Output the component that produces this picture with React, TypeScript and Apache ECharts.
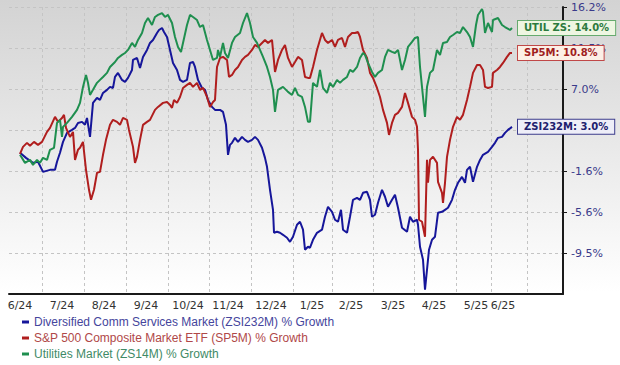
import React, { useEffect, useRef } from 'react';
import * as echarts from 'echarts';

// ---- axis ticks / labels ----
const xTickDays = [16.4, 37.6, 58.5, 79.4, 100, 120.9, 141.9, 161.7, 181.9, 202.7, 223.5, 240.9, 258.9];
const xLabelDays = [5.5, 26.5, 47.5, 68.5, 89.5, 109.5, 131, 151.5, 171, 192, 212.5, 233.5, 247];
const xLabels = ['6/24', '7/24', '8/24', '9/24', '10/24', '11/24', '12/24', '1/25', '2/25', '3/25', '4/25', '5/25', '6/25'];
const yTickValues = [-9.48, -5.2, -0.92, 3.36, 7.64, 11.92, 16.2];
const yLabelValues = [-9.48, -5.2, -0.92, 7.64, 11.92, 16.2];
const yLabels = ['-9.5%', '-5.6%', '-1.6%', '7.0%', '11.5%', '16.2%'];

// ---- series ----
const seriesNames = [
  'Diversified Comm Services Market (ZSI232M) % Growth',
  'S&P 500 Composite Market ETF (SP5M) % Growth',
  'Utilities Market (ZS14M) % Growth',
];
const endTags = ['ZSI232M: 3.0%', 'SP5M: 10.8%', 'UTIL ZS: 14.0%'];

const blueDays = [5.5, 8.5, 12, 14.5, 17, 20.5, 23, 24, 25.5, 27, 29, 31.5, 33, 34.5, 36.5, 38, 39, 40.5, 42, 44, 45.5, 47, 49, 50.5, 52, 53, 54.5, 56.5, 58, 59.5, 61.5, 62, 64, 65.5, 67, 69, 70.5, 72, 74, 75, 76.5, 77.5, 79, 80.5, 82, 84, 85.5, 87, 89, 90.5, 92, 93, 94.5, 96.5, 98, 99.5, 101.5, 103, 105.5, 107, 108.5, 109.5, 110.5, 111.5, 113, 114.5, 116.5, 118, 119.5, 121.5, 123, 124.5, 126.5, 128, 129, 130.5, 132, 132.5, 134, 135.5, 137, 139, 140.5, 142, 144, 145.5, 147, 148, 149.5, 150.5, 152, 154, 156.5, 158, 159.5, 161.5, 163, 164.5, 166, 167, 169, 170.5, 172, 174, 175.5, 177, 179, 180.5, 181.5, 183, 184.5, 186.5, 188, 189.5, 191.5, 193, 194.5, 196.5, 199, 200.5, 202, 204, 204.5, 205.5, 207, 208, 209, 210, 211.5, 213, 214.5, 216.5, 218, 219.5, 221.5, 223, 224.5, 226.5, 228, 229, 230.5, 232, 234, 235.5, 237, 239.5, 241.5, 243, 244.5, 246.5, 248, 249.5, 251.5];
const blueValues = [0.98, 0.45, -0.07, 0.04, -1.01, -0.8, -0.8, 0.04, 0.98, 2.12, 3.06, 3.37, 3.58, 4.1, 4.21, 3.9, 4.62, 2.64, 6.19, 6.71, 6.5, 7.23, 7.55, 7.86, 7.75, 8.9, 9.32, 8.59, 8.38, 8.8, 9.63, 10.67, 10.88, 9.84, 10.99, 11.72, 12.45, 12.76, 13.49, 13.8, 14.01, 13.59, 13.07, 11.72, 10.36, 9.63, 8.59, 8.38, 8.59, 10.36, 10.46, 9.94, 8.59, 7.75, 7.55, 6.5, 5.77, 5.46, 5.46, 5.25, 3.9, 0.77, 1.81, 2.02, 2.54, 2.12, 2.64, 2.33, 2.12, 2.33, 2.64, 2.33, 1.5, 0.45, -0.48, -2.88, -4.97, -7.37, -7.26, -7.37, -7.58, -7.89, -8.31, -7.78, -6.53, -6.22, -7.05, -9.14, -8.83, -8.93, -8.1, -7.37, -7.05, -5.7, -4.66, -5.18, -6.01, -6.22, -4.97, -7.05, -7.37, -5.7, -3.93, -3.72, -3.93, -3.2, -3.09, -3.93, -5.7, -5.49, -4.24, -2.88, -3.61, -4.66, -3.93, -3.4, -4.76, -6.85, -7.26, -5.7, -6.22, -6.01, -6.53, -8.83, -10.18, -13.31, -11.23, -9.14, -8.1, -7.78, -5.28, -5.18, -4.97, -4.76, -3.93, -2.88, -2.15, -1.53, -2.15, -0.8, -0.48, -2.05, -0.48, 0.24, 0.77, 1.08, 1.6, 2.02, 2.54, 2.64, 3.06, 3.37, 3.69];

const redDays = [5.5, 7, 9, 10.5, 12.5, 14.5, 16.5, 19, 20.5, 23, 24.5, 26.5, 27.5, 28.5, 30.5, 32, 33, 34.5, 35.5, 37, 38.5, 40, 41, 42.5, 44, 45.5, 47, 48.5, 50.5, 52, 54, 55.5, 57, 59, 60, 62, 63, 64, 65.5, 67, 69, 70.5, 73, 74.5, 77, 79, 80.5, 81.5, 82.5, 84, 85.5, 87, 89, 90.5, 92, 94, 95.5, 97, 99, 100.5, 102, 103, 104, 105.5, 107, 109, 110, 111.5, 113, 114.5, 116.5, 118, 119.5, 121.5, 123, 124.5, 126.5, 128, 129.5, 131.5, 133, 134.5, 136.5, 138, 139.5, 141.5, 143, 144.5, 146.5, 148, 149.5, 150.5, 152, 154, 156.5, 158, 159.5, 161.5, 163, 164.5, 166.5, 168, 169.5, 171.5, 173, 174.5, 175.5, 177, 179, 180.5, 182, 184, 185.5, 187, 189, 190, 191.5, 193, 194.5, 196.5, 198, 199.5, 201.5, 203, 204, 204.5, 205, 206.5, 208, 209, 209.5, 210.5, 212, 214, 214.5, 216.5, 217, 218, 219, 220.5, 222, 224, 225.5, 227, 229, 230.5, 232, 234, 235.5, 237, 238, 239.5, 241.5, 242, 244, 245.5, 247, 249, 250.5, 251.5];
const redValues = [0.87, 1.6, 2.02, 1.71, 2.12, 1.81, 2.12, 3.16, 3.58, 4.73, 4.21, 4.62, 4.94, 3.58, 2.64, 3.16, 0.24, 1.29, 1.5, 2.12, -0.8, -2.88, -3.93, -2.88, -1.11, -1.01, 0.77, 2.33, 3.9, 4.42, 4.21, 3.9, 4.62, 4.42, 3.37, 1.6, -0.07, 0.56, 2.33, 3.9, 4.21, 4.42, 5.46, 5.77, 6.19, 6.29, 5.98, 5.67, 6.5, 6.19, 6.81, 7.75, 8.07, 8.28, 7.86, 8.28, 7.55, 7.75, 6.81, 5.77, 6.29, 6.5, 9.94, 10.88, 10.99, 10.67, 8.9, 9.11, 9.63, 9.94, 10.67, 10.99, 11.2, 11.72, 12.24, 12.03, 12.45, 12.76, 12.45, 12.76, 9.42, 10.67, 11.72, 12.24, 10.88, 9.94, 10.46, 10.99, 10.67, 8.9, 8.8, 8.8, 9.94, 11.72, 13.49, 12.76, 12.45, 12.76, 12.03, 12.76, 12.97, 12.03, 13.07, 13.49, 13.49, 13.59, 13.07, 11.72, 10.88, 9.32, 8.8, 7.75, 6.81, 5.46, 4.1, 2.85, 4.1, 4.94, 5.15, 5.77, 7.23, 6.19, 4.73, 4.42, 3.69, 1.29, -6.01, -6.22, -7.78, 0.24, -2.15, 0.24, 0.56, -0.07, -2.05, -3.2, -4.24, -2.15, 0.56, 2.33, 3.69, 4.73, 4.42, 4.94, 6.5, 7.86, 9.32, 10.15, 10.15, 9.63, 7.86, 7.75, 7.86, 9.32, 9.63, 9.94, 10.36, 10.99, 11.4, 11.4];

const greenDays = [5.5, 8, 10.5, 12, 14, 15.5, 17, 19, 20.5, 22.5, 24, 25.5, 26.5, 27, 29, 31.5, 34, 35.5, 37, 38.5, 39.5, 40.5, 42, 44, 45.5, 47, 49, 50.5, 53, 54.5, 56.5, 58, 59.5, 61.5, 63, 64.5, 66.5, 68, 69.5, 71.5, 73, 74.5, 76.5, 78, 79.5, 81.5, 83, 84.5, 86, 87, 89, 90.5, 92, 94, 95.5, 97, 99, 100.5, 102, 104, 104.5, 105.5, 107, 108, 109.5, 111.5, 113, 115.5, 117, 119, 120.5, 122, 124, 125.5, 127, 129, 130.5, 132, 133, 134.5, 137, 139.5, 141.5, 143, 144.5, 146.5, 148, 149.5, 150.5, 152, 154, 155.5, 157, 159, 160.5, 162, 164, 165.5, 167, 169, 170.5, 172, 174, 175.5, 177, 178, 179.5, 181.5, 183, 184.5, 186.5, 188, 189.5, 191.5, 193, 194.5, 196.5, 198, 199.5, 201.5, 203, 204.5, 205.5, 207, 208, 209, 210.5, 212, 214, 215.5, 217, 219, 220.5, 222, 224, 225.5, 227, 229, 230.5, 232, 233.5, 234.5, 236.5, 237, 238, 239.5, 241.5, 242, 244.5, 246.5, 248, 250.5, 251.5];
const greenValues = [0.77, -0.07, 0.24, -0.28, 0.24, -0.07, 0.45, 0.24, 1.29, 1.5, 4.1, 4.42, 2.64, 3.69, 4.1, 4.73, 5.46, 6.19, 7.86, 9.11, 8.28, 7.02, 7.55, 8.28, 8.59, 8.9, 9.32, 9.94, 10.46, 10.88, 11.2, 11.4, 11.72, 12.45, 12.03, 12.76, 13.49, 14.53, 15.05, 14.32, 15.16, 15.37, 15.57, 15.16, 15.37, 14.53, 13.07, 12.03, 11.51, 12.45, 14.32, 15.37, 15.16, 14.84, 14.11, 14.32, 12.76, 11.72, 10.67, 10.88, 11.72, 10.99, 12.45, 11.4, 10.88, 12.45, 13.07, 13.49, 14.53, 15.57, 14.53, 13.07, 12.45, 11.72, 10.99, 9.94, 8.9, 7.55, 5.25, 7.55, 7.86, 7.34, 7.02, 7.75, 7.02, 6.81, 5.77, 4.21, 4.21, 8.28, 7.86, 9.63, 7.75, 7.23, 8.28, 7.86, 8.59, 8.28, 8.59, 8.9, 9.63, 9.42, 9.94, 10.88, 11.4, 11.2, 10.36, 9.42, 8.9, 9.32, 9.63, 10.99, 11.72, 11.51, 11.4, 11.72, 9.63, 10.67, 12.03, 12.55, 12.97, 13.07, 9.94, 6.81, 4.73, 7.86, 9.32, 9.63, 11.72, 11.2, 12.45, 12.55, 13.07, 13.28, 13.59, 13.49, 14.11, 13.59, 13.07, 12.03, 14.32, 15.37, 15.99, 15.68, 13.49, 14.53, 13.59, 14.84, 15.05, 14.32, 14.11, 13.8, 14.01];

const lineColors = ['#16169a', '#b01e1e', '#1f8f4f'];
const legendTextColors = ['#45459c', '#b04848', '#3f8a66'];
const tagFills = ['#eeeef8', '#fcefe6', '#eef6e2'];
const tagBorders = ['#3c3c8c', '#c04848', '#66aa6e'];
const tagText = ['#20206e', '#a01e1e', '#2c7a3e'];

function zip(xs: number[], ys: number[]) {
  return xs.map((x, i) => [x, ys[i]]);
}

export default function App() {
  const ref = useRef<HTMLDivElement>(null);
  useEffect(() => {
    if (!ref.current) return;
    const chart = echarts.init(ref.current, undefined, { renderer: 'svg' });
    const datasets = [zip(blueDays, blueValues), zip(redDays, redValues), zip(greenDays, greenValues)];
    const option: any = {
      animation: false,
      grid: { left: 9, right: 57, top: 7, bottom: 71 },
      xAxis: {
        type: 'value',
        min: 0,
        max: 277,
        axisLine: { show: true, onZero: false, lineStyle: { color: '#1a1a1a', width: 2 } },
        axisTick: { show: false, customValues: xTickDays },
        splitLine: { show: true, lineStyle: { color: '#c4c4c4', type: [3, 3], width: 1 } },
        axisLabel: {
          customValues: xLabelDays,
          margin: 6,
          color: '#333',
          fontFamily: 'DejaVu Sans',
          fontSize: 11,
          formatter: (v: number) => {
            const i = xLabelDays.findIndex((d) => Math.abs(d - v) < 0.01);
            return i >= 0 ? xLabels[i] : '';
          },
        },
      },
      yAxis: {
        type: 'value',
        position: 'right',
        min: -13.76,
        max: 16.2,
        axisLine: { show: true, onZero: false, lineStyle: { color: '#1a1a1a', width: 2 } },
        axisTick: { show: true, length: 4, customValues: yTickValues, lineStyle: { color: '#1a1a1a', width: 1 } },
        splitLine: { show: true, lineStyle: { color: '#c4c4c4', type: [3, 3], width: 1 } },
        axisLabel: {
          customValues: yLabelValues,
          margin: 8,
          color: '#3a3a8a',
          fontFamily: 'DejaVu Sans',
          fontSize: 11,
          formatter: (v: number) => {
            const i = yLabelValues.findIndex((d) => Math.abs(d - v) < 0.01);
            return i >= 0 ? yLabels[i] : '';
          },
        },
      },
      legend: {
        orient: 'vertical',
        left: 22,
        top: 316,
        padding: 0,
        height: 60,
        itemGap: 4,
        itemWidth: 7,
        itemHeight: 3,
        icon: 'rect',
        textStyle: { fontFamily: 'Liberation Sans', fontSize: 12 },
        data: seriesNames.map((n, i) => ({
          name: n,
          itemStyle: { color: lineColors[i] },
          textStyle: { color: legendTextColors[i] },
        })),
      },
      series: seriesNames.map((n, i) => ({
        name: n,
        type: 'line',
        data: datasets[i],
        showSymbol: false,
        symbol: 'none',
        color: lineColors[i],
        lineStyle: { color: lineColors[i], width: 2 },
        endLabel: {
          show: true,
          formatter: endTags[i],
          distance: 6,
          fontFamily: 'DejaVu Sans',
          fontWeight: 'bold',
          fontSize: 10,
          color: tagText[i],
          backgroundColor: tagFills[i],
          borderColor: tagBorders[i],
          borderWidth: 1,
          padding: [2, 6, 2, 6],
        },
      })),
    };
    chart.setOption(option);
    return () => chart.dispose();
  }, []);
  return (
    <div
      ref={ref}
      style={{
        position: 'fixed',
        left: 0,
        top: 0,
        width: 620,
        height: 365,
        background: 'linear-gradient(#d3d3d3 0px, #ffffff 292px, #ffffff 365px)',
      }}
    />
  );
}
